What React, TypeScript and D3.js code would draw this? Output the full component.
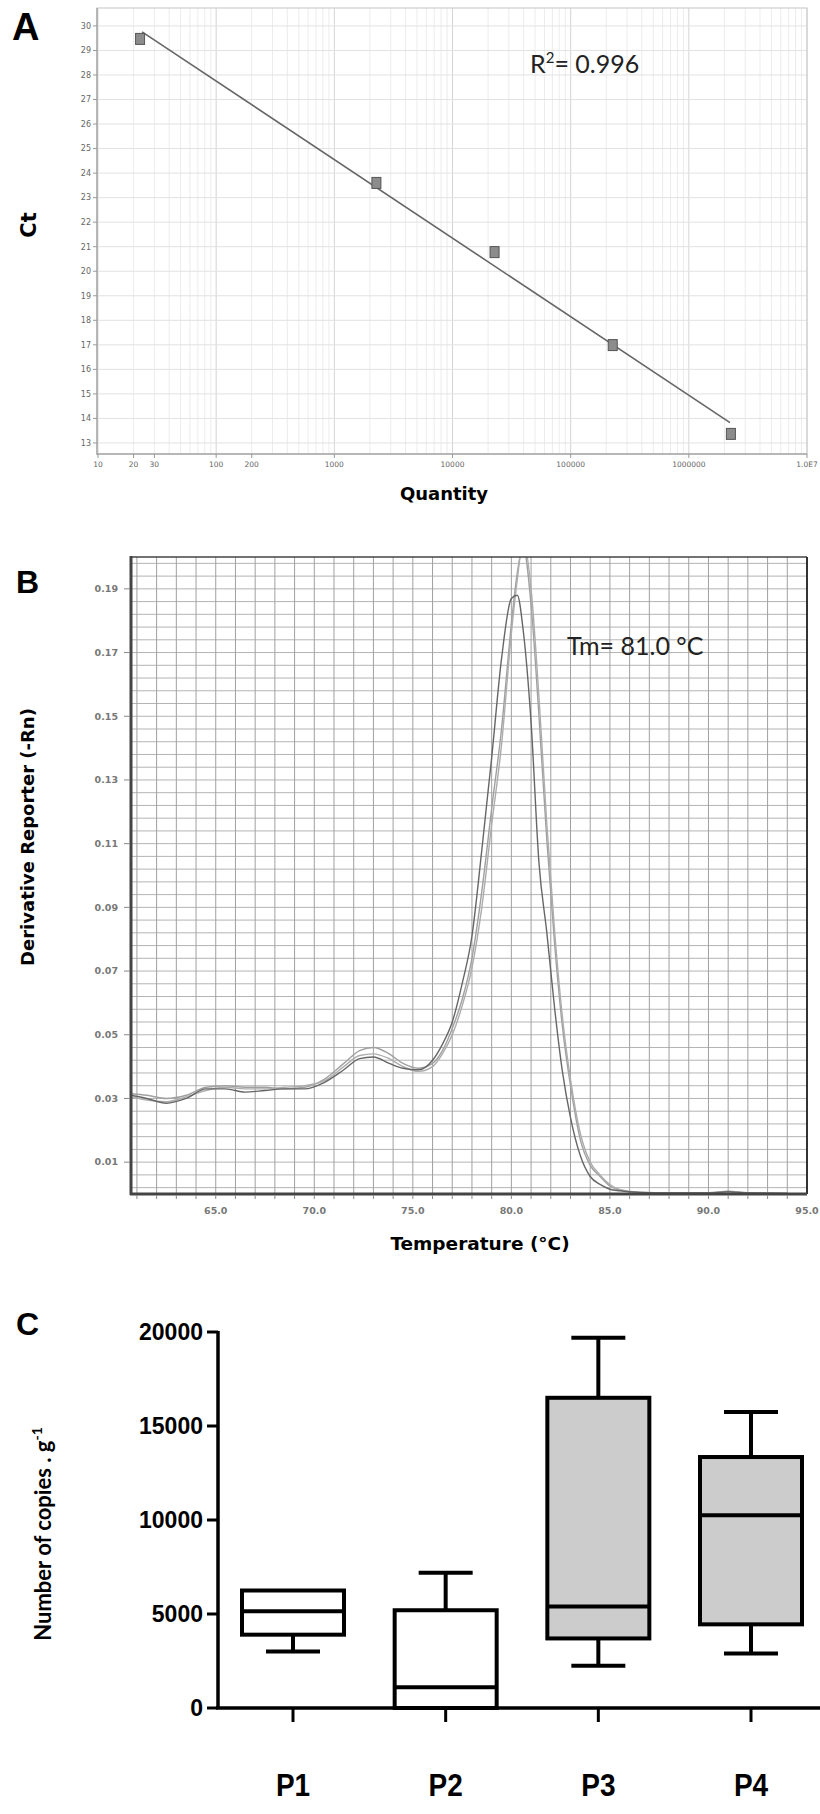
import * as d3 from "d3";

// ---- Panel A: standard curve ----
const stdQuantity = [22.7, 2270, 22700, 227000, 2270000];
const stdCt = [29.47, 23.6, 20.78, 16.99, 13.37];
const fitQuantity = [23.6, 2230000];
const fitCt = [29.76, 13.83];
const ctTicks = [13, 14, 15, 16, 17, 18, 19, 20, 21, 22, 23, 24, 25, 26, 27, 28, 29, 30];
const qtyTicks = [10, 20, 30, 100, 200, 1000, 10000, 100000, 1000000, 10000000];
const qtyTickLabels = ["10", "20", "30", "100", "200", "1000", "10000", "100000", "1000000", "1.0E7"];

// ---- Panel B: melt curves ----
const meltTemp = [
  60.7, 61.5, 62.5, 63.5, 64.5, 65.5, 66.5, 67.5, 68.5, 69.5, 70.5, 71.5, 72.3, 73, 73.8,
  74.5, 75.3, 76, 76.5, 77, 77.5, 78, 78.5, 79, 79.5, 80, 80.3, 80.6, 81, 81.4, 81.8, 82.2,
  82.6, 83, 83.5, 84, 84.5, 85, 85.5, 86.5, 88, 90, 91, 92, 94,
];
const meltDark = [
  0.031, 0.03, 0.0285, 0.03, 0.033, 0.033, 0.032, 0.0325, 0.033, 0.033, 0.035, 0.039, 0.0425,
  0.043, 0.041, 0.0395, 0.039, 0.042, 0.047, 0.054, 0.066, 0.081, 0.108, 0.137, 0.168, 0.187,
  0.188, 0.177, 0.148, 0.104, 0.082, 0.058, 0.038, 0.024, 0.012, 0.0055, 0.003, 0.0015, 0.001,
  0.0005, 0.0003, 0.0003, 0.0007, 0.0003, 0.0002,
];
const meltLight1 = [
  0.0315, 0.031, 0.03, 0.031, 0.0335, 0.034, 0.0335, 0.0335, 0.033, 0.0335, 0.036, 0.041,
  0.045, 0.046, 0.044, 0.041, 0.0395, 0.041, 0.045, 0.052, 0.061, 0.074, 0.095, 0.121, 0.146,
  0.179, 0.195, 0.203, 0.185, 0.15, 0.111, 0.078, 0.052, 0.034, 0.017, 0.009, 0.0055, 0.0025,
  0.0012, 0.0005, 0.0004, 0.0004, 0.0009, 0.0004, 0.0002,
];
const meltLight2 = [
  0.0305, 0.0295, 0.029, 0.0305, 0.0325, 0.0335, 0.033, 0.033, 0.0335, 0.034, 0.0355, 0.04,
  0.0435, 0.044, 0.0425, 0.04, 0.0385, 0.04, 0.044, 0.05, 0.059, 0.071, 0.09, 0.116, 0.141,
  0.176, 0.193, 0.205, 0.19, 0.156, 0.116, 0.082, 0.055, 0.036, 0.019, 0.01, 0.006, 0.003,
  0.0014, 0.0006, 0.0004, 0.0004, 0.0008, 0.0004, 0.0002,
];
const derivTicks = [0.01, 0.03, 0.05, 0.07, 0.09, 0.11, 0.13, 0.15, 0.17, 0.19];
const tempTicks = [65, 70, 75, 80, 85, 90, 95];

// ---- Panel C: box plots ----
const plots = ["P1", "P2", "P3", "P4"];
const whiskerLow = [3000, 0, 2250, 2900];
const quart1 = [3900, 0, 3700, 4450];
const medians = [5150, 1100, 5400, 10250];
const quart3 = [6250, 5200, 16500, 13350];
const whiskerHigh = [6250, 7200, 19700, 15750];
const countTicks = [0, 5000, 10000, 15000, 20000];

const boxFills = ["#ffffff", "#ffffff", "#cccccc", "#cccccc"];
const titleFont = "'DejaVu Sans', sans-serif";
const arial = "'Liberation Sans', Arial, sans-serif";

export default function App() {
  // A scales
  const xA = d3.scaleLog().domain([10, 1e7]).range([98, 807]);
  const yA = d3.scaleLinear().domain([12.55, 30.73]).range([454, 8]);
  const minorA: number[] = [];
  for (let d = 10; d < 1e7; d *= 10) for (let m = 1; m < 10; m++) minorA.push(d * m);
  minorA.push(1e7);
  const fitLine = d3
    .line<number>()
    .x((q) => xA(q))
    .y((_, i) => yA(fitCt[i]));

  // B scales
  const xB = d3.scaleLinear().domain([60.7, 95]).range([131, 807]);
  const yB = d3.scaleLinear().domain([0, 0.2]).range([1194, 557]);
  const gridTB = d3.range(61, 95);
  const gridVB = d3.range(0, 50).map((k) => 0.002 + 0.004 * k);
  const meltLine = (vals: number[]) =>
    d3
      .line<number>()
      .x((t) => xB(t))
      .y((_, i) => yB(vals[i]))
      .curve(d3.curveMonotoneX)(meltTemp) || "";

  // C scales
  const xC = d3.scalePoint().domain(plots).range([293, 751]);
  const yC = d3.scaleLinear().domain([0, 20000]).range([1708, 1332]);
  const boxW = 102;
  const capW = 54;

  return (
    <div style={{ position: "absolute", left: 0, top: 0 }}>
      <svg width={820} height={1814} viewBox="0 0 820 1814" style={{ display: "block", background: "#fff" }}>
        {/* ===== Panel A ===== */}
        <text x={12} y={40} fontFamily={arial} fontWeight="bold" fontSize={38}>A</text>
        <g>
          {minorA.map((q, i) => {
            const major = Math.abs(Math.log10(q) - Math.round(Math.log10(q))) < 1e-9;
            return (
              <line key={"av" + i} x1={xA(q)} x2={xA(q)} y1={8} y2={454}
                stroke={major ? "#d4d4d4" : "#ececec"} strokeWidth={1} />
            );
          })}
          {ctTicks.map((c) => (
            <line key={"ah" + c} x1={97} x2={807} y1={yA(c)} y2={yA(c)} stroke="#e2e2e2" strokeWidth={1} />
          ))}
          <rect x={97} y={8} width={710} height={446} fill="none" stroke="#cfcfcf" strokeWidth={1.2} />
          <line x1={97} x2={97} y1={8} y2={455} stroke="#a8a8a8" strokeWidth={1.5} />
          <line x1={97} x2={807} y1={454} y2={454} stroke="#a8a8a8" strokeWidth={1.5} />
          {ctTicks.map((c) => (
            <g key={"at" + c}>
              <line x1={93} x2={97} y1={yA(c)} y2={yA(c)} stroke="#999" />
              <text x={91} y={yA(c)} dy="0.35em" textAnchor="end" fontSize={8} fill="#666" fontFamily={titleFont}>
                {c}
              </text>
            </g>
          ))}
          {qtyTicks.map((q, i) => (
            <g key={"aq" + i}>
              <line x1={xA(q)} x2={xA(q)} y1={454} y2={458} stroke="#999" />
              <text x={xA(q)} y={467} textAnchor="middle" fontSize={7.5} fill="#666" fontFamily={titleFont}>
                {qtyTickLabels[i]}
              </text>
            </g>
          ))}
          <path d={fitLine(fitQuantity) || ""} fill="none" stroke="#666" strokeWidth={1.6} />
          {stdQuantity.map((q, i) => (
            <rect key={"ap" + i} x={xA(q) - 4.5} y={yA(stdCt[i]) - 5.5} width={9} height={11}
              fill="#8c8c8c" stroke="#555" strokeWidth={1} />
          ))}
          <text x={530} y={73} fontFamily="Lato, 'Open Sans', sans-serif" fontSize={25} fill="#222">
            R<tspan fontSize={15} dy={-10}>2</tspan>
            <tspan dy={10}>= 0.996</tspan>
          </text>
          <text transform="translate(36,225) rotate(-90)" textAnchor="middle" fontFamily={titleFont}
            fontWeight="bold" fontSize={21}>Ct</text>
          <text x={444} y={500} textAnchor="middle" fontFamily={titleFont} fontWeight="bold" fontSize={18}>
            Quantity
          </text>
        </g>

        {/* ===== Panel B ===== */}
        <text x={16} y={593} fontFamily={arial} fontWeight="bold" fontSize={32}>B</text>
        <defs>
          <clipPath id="clipB">
            <rect x={131} y={557} width={676} height={637} />
          </clipPath>
        </defs>
        <g>
          <rect x={131} y={557} width={676} height={637} fill="#fff" />
          {gridVB.map((v, i) => (
            <line key={"bh" + i} x1={131} x2={807} y1={yB(v)} y2={yB(v)} stroke="#b4b4b4" strokeWidth={1} />
          ))}
          {gridTB.map((t) => (
            <line key={"bv" + t} x1={xB(t)} x2={xB(t)} y1={557} y2={1194} stroke="#a0a0a0" strokeWidth={1} />
          ))}
          <g clipPath="url(#clipB)">
            <path d={meltLine(meltLight1)} fill="none" stroke="#a0a0a0" strokeWidth={1.4} />
            <path d={meltLine(meltLight2)} fill="none" stroke="#adadad" strokeWidth={1.4} />
            <path d={meltLine(meltDark)} fill="none" stroke="#666" strokeWidth={1.4} />
          </g>
          <line x1={131} x2={807} y1={557} y2={557} stroke="#444" strokeWidth={1.5} />
          <line x1={807} x2={807} y1={557} y2={1194} stroke="#333" strokeWidth={2} />
          <line x1={131} x2={131} y1={556} y2={1195} stroke="#444" strokeWidth={3} />
          <line x1={130} x2={807} y1={1194} y2={1194} stroke="#444" strokeWidth={3} />
          {gridTB.map((t) => (
            <line key={"bt" + t} x1={xB(t)} x2={xB(t)} y1={1195} y2={1199} stroke="#888" />
          ))}
          {derivTicks.map((v) => (
            <g key={"by" + v}>
              <line x1={124} x2={130} y1={yB(v)} y2={yB(v)} stroke="#888" />
              <text x={118} y={yB(v)} dy="0.35em" textAnchor="end" fontSize={9.5} fontWeight="bold"
                fill="#777" fontFamily={titleFont}>
                {v.toFixed(2)}
              </text>
            </g>
          ))}
          {tempTicks.map((t) => (
            <text key={"bx" + t} x={xB(t)} y={1214} textAnchor="middle" fontSize={9.5} fontWeight="bold"
              fill="#777" fontFamily={titleFont}>
              {t.toFixed(1)}
            </text>
          ))}
          <text x={567} y={655} fontFamily="Lato, 'Open Sans', sans-serif" fontSize={25} fill="#222">
            Tm= 81.0 °C
          </text>
          <text transform="translate(34,837) rotate(-90)" textAnchor="middle" fontFamily={titleFont}
            fontWeight="bold" fontSize={18}>
            Derivative Reporter (-Rn)
          </text>
          <text x={480} y={1250} textAnchor="middle" fontFamily={titleFont} fontWeight="bold" fontSize={18.5}>
            Temperature (°C)
          </text>
        </g>

        {/* ===== Panel C ===== */}
        <text x={16} y={1335} fontFamily={arial} fontWeight="bold" fontSize={32}>C</text>
        <g>
          {plots.map((p, i) => {
            const cx = xC(p) as number;
            return (
              <g key={p} stroke="#000" strokeWidth={4} fill="none">
                {whiskerHigh[i] > quart3[i] && (
                  <>
                    <line x1={cx} x2={cx} y1={yC(quart3[i])} y2={yC(whiskerHigh[i])} />
                    <line x1={cx - capW / 2} x2={cx + capW / 2} y1={yC(whiskerHigh[i])} y2={yC(whiskerHigh[i])} />
                  </>
                )}
                {whiskerLow[i] < quart1[i] && (
                  <>
                    <line x1={cx} x2={cx} y1={yC(quart1[i])} y2={yC(whiskerLow[i])} />
                    <line x1={cx - capW / 2} x2={cx + capW / 2} y1={yC(whiskerLow[i])} y2={yC(whiskerLow[i])} />
                  </>
                )}
                <rect x={cx - boxW / 2} y={yC(quart3[i])} width={boxW} height={yC(quart1[i]) - yC(quart3[i])}
                  fill={boxFills[i]} />
                <line x1={cx - boxW / 2} x2={cx + boxW / 2} y1={yC(medians[i])} y2={yC(medians[i])} />
              </g>
            );
          })}
          <line x1={218} x2={218} y1={1331} y2={1709} stroke="#000" strokeWidth={3.5} />
          <line x1={216} x2={820} y1={1708} y2={1708} stroke="#000" strokeWidth={3.5} />
          {countTicks.map((c) => (
            <g key={"cy" + c}>
              <line x1={207} x2={218} y1={yC(c)} y2={yC(c)} stroke="#000" strokeWidth={3} />
              <text x={203} y={yC(c)} dy="0.36em" textAnchor="end" fontFamily={arial} fontWeight="bold"
                fontSize={23}>
                {c}
              </text>
            </g>
          ))}
          {plots.map((p) => (
            <g key={"cx" + p}>
              <line x1={xC(p)} x2={xC(p)} y1={1708} y2={1722} stroke="#000" strokeWidth={3} />
              <text transform={`translate(${xC(p)},1796) scale(1,1.15)`} textAnchor="middle" fontFamily={arial}
                fontWeight="bold" fontSize={28}>
                {p}
              </text>
            </g>
          ))}
          <text transform="translate(51,1534) rotate(-90)" textAnchor="middle"
            fontFamily="Lato, 'Open Sans', sans-serif" fontWeight="bold" fontSize={22}>
            Number of copies . g<tspan fontSize={14} dy={-9}>-1</tspan>
          </text>
        </g>
      </svg>
    </div>
  );
}
